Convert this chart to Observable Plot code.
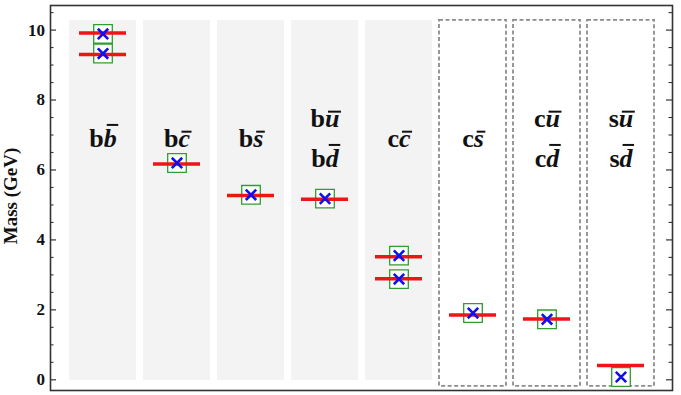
<!DOCTYPE html>
<html>
<head>
<meta charset="utf-8">
<script src="https://cdn.jsdelivr.net/npm/d3@7"></script>
<script src="https://cdn.jsdelivr.net/npm/@observablehq/plot@0.6"></script>
<style>
  html, body { margin: 0; padding: 0; background: white; }
</style>
</head>
<body>
<div id="chart"></div>
<script>
// ---- data ----
const categories = ["bb", "bc", "bs", "bu", "cc", "cs", "cu", "su"];
const labelLines = [["bb"], ["bc"], ["bs"], ["bu", "bd"], ["cc"], ["cs"], ["cu", "cd"], ["su", "sd"]];
const panelShaded = [true, true, true, true, true, false, false, false];

const stateCats = ["bb", "bb", "bc", "bs", "bu", "cc", "cc", "cs", "cu", "su"];
const expMass   = [9.92, 9.30, 6.17, 5.27, 5.16, 3.52, 2.89, 1.85, 1.74, 0.41];
const modelMass = [9.89, 9.33, 6.20, 5.29, 5.18, 3.55, 2.88, 1.91, 1.73, 0.08];

const yTicks = [0, 2, 4, 6, 8, 10];
const yMinorTicks = [0.5, 1, 1.5, 2.5, 3, 3.5, 4.5, 5, 5.5, 6.5, 7, 7.5, 8.5, 9, 9.5, 10.5];
const yLabel = "Mass (GeV)";

// ---- build ----
const W = 681, H = 395, ML = 50, MR = 9;
const plotW = W - ML - MR;
const labelMass = 7.03;

const panels = categories.map((c, i) => ({cat: c, lines: labelLines[i], shaded: panelShaded[i]}));
const expRows = stateCats.map((c, i) => ({cat: c, mass: expMass[i]}));
const modelRows = stateCats.map((c, i) => ({cat: c, mass: modelMass[i]}));

const chart = Plot.plot({
  width: W, height: H,
  marginLeft: ML, marginRight: MR, marginTop: 5, marginBottom: 5,
  style: {fontFamily: "'Liberation Serif', 'Times New Roman', serif", fontWeight: "bold", background: "white", color: "#111"},
  x: {type: "band", domain: categories, range: [65.5, 657], paddingInner: 0.09, paddingOuter: 0, axis: null},
  y: {domain: [-0.306, 10.703], label: null},
  marks: [
    Plot.barY(panels.filter(d => d.shaded), {x: "cat", y1: -0.02, y2: 10.27, fill: "#f3f3f3"}),
    Plot.barY(panels.filter(d => !d.shaded), {x: "cat", y1: -0.19, y2: 10.28, fill: "none", stroke: "#8c8c8c", strokeWidth: 1.8, strokeDasharray: "4,2.5"}),
    Plot.text(panels, {x: "cat", y: () => labelMass, text: d => d.lines.join("\n"), fontSize: 26, lineHeight: 1.54, fill: "#111"}),
    Plot.dot(modelRows, {x: "cat", y: "mass", symbol: "square", r: 10.5, stroke: "#2e9e2e", strokeWidth: 1.3, fill: "white"}),
    Plot.tickY(expRows, {x: "cat", y: "mass", stroke: "#ee1515", strokeWidth: 3.5, insetLeft: 10, insetRight: 10}),
    Plot.dot(modelRows, {x: "cat", y: "mass", symbol: "times", r: 4.8, stroke: "#1010ee", strokeWidth: 2.6}),
    Plot.tickY(yTicks, {y: d => d, insetRight: plotW - 6, stroke: "#333", strokeWidth: 1.2}),
    Plot.tickY(yTicks, {y: d => d, insetLeft: plotW - 6, stroke: "#333", strokeWidth: 1.2}),
    Plot.tickY(yMinorTicks, {y: d => d, insetRight: plotW - 3.5, stroke: "#333", strokeWidth: 1.1}),
    Plot.tickY(yMinorTicks, {y: d => d, insetLeft: plotW - 3.5, stroke: "#333", strokeWidth: 1.1}),
    Plot.frame({stroke: "#333", strokeWidth: 1.6}),
    Plot.axisY(yTicks, {tickSize: 0, tickPadding: 5.5, fontSize: 17, label: null, tickFormat: d3.format("d")}),
    Plot.text([yLabel], {frameAnchor: "left", textAnchor: "middle", text: d => d, rotate: -90, dx: -40, dy: -2, fontSize: 19, fill: "#111"})
  ]
});
document.getElementById("chart").append(chart);

// ---- italic + overbar on the antiquark letter ----
const svgNS = "http://www.w3.org/2000/svg";
const ascenders = "bdhklft";
const labelKeys = new Set(labelLines.map(l => l.join("|")));
chart.querySelectorAll("text").forEach(text => {
  const tspans = Array.from(text.querySelectorAll("tspan"));
  const units = tspans.length ? tspans : [text];
  const key = units.map(el => el.textContent).join("|");
  if (!labelKeys.has(key)) return;
  const italicIdx = [];
  let idx = 0;
  units.forEach(el => {
    const s = el.textContent;
    el.textContent = "";
    el.append(document.createTextNode(s.slice(0, 1)));
    const it = document.createElementNS(svgNS, "tspan");
    it.setAttribute("font-style", "italic");
    it.textContent = s.slice(1);
    el.append(it);
    italicIdx.push([idx + 1, s.slice(1)]);
    idx += s.length;
  });
  const fs = 26;
  italicIdx.forEach(([i, ch]) => {
    const ext = text.getExtentOfChar(i);
    const pos = text.getStartPositionOfChar(i);
    const up = ascenders.includes(ch) ? 0.84 * fs : 0.58 * fs;
    const ln = document.createElementNS(svgNS, "line");
    ln.setAttribute("x1", ext.x + 3);
    ln.setAttribute("x2", ext.x + ext.width + 1.5);
    ln.setAttribute("y1", pos.y - up);
    ln.setAttribute("y2", pos.y - up);
    ln.setAttribute("stroke", "#111");
    ln.setAttribute("stroke-width", 2);
    const tr = text.getAttribute("transform");
    if (tr) ln.setAttribute("transform", tr);
    text.parentNode.append(ln);
  });
});
</script>
</body>
</html>
